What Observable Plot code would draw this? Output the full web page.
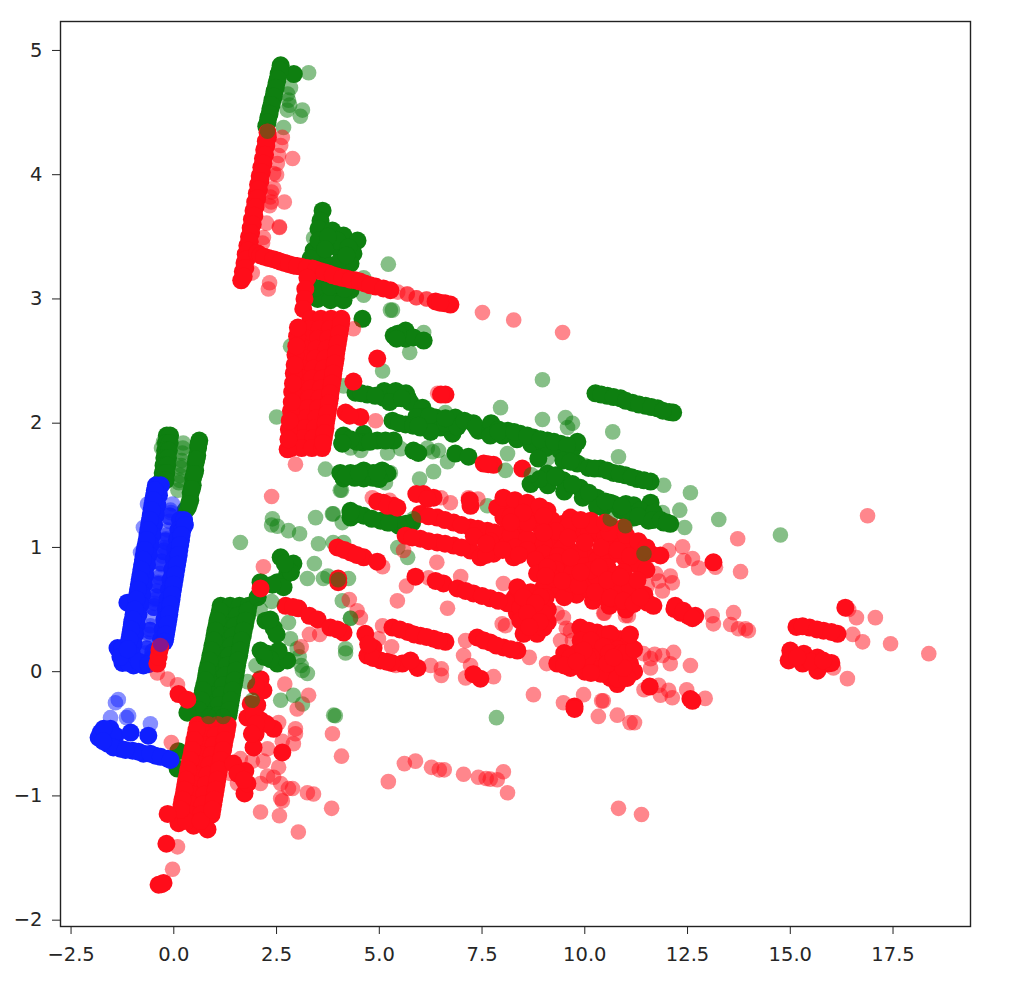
<!DOCTYPE html>
<html>
<head>
<meta charset="utf-8">
<script src="https://cdn.jsdelivr.net/npm/d3@7"></script>
<script src="https://cdn.jsdelivr.net/npm/@observablehq/plot@0.6"></script>
<style>html,body{margin:0;padding:0;background:#fff}svg{display:block}</style>
</head>
<body>
<div id="chart"></div>
<script>
const xTicks = [-2.5,0,2.5,5,7.5,10,12.5,15,17.5];
const yTicks = [-2,-1,0,1,2,3,4,5];
const RED = "#ff0d1a", GREEN = "#0e7f10", BLUE = "#0f1fff";

// ---- blue, overlapping (opaque-looking) points
const blueDense = [
[-.435,1.50],[-.315,1.50],[-.48,1.42],[-.36,1.42],[-.52,1.34],[-.40,1.34],[-.56,1.26],[-.44,1.26],[-.60,1.18],[-.48,1.18],[-.64,1.10],[-.52,1.10],[-.685,1.02],[-.565,1.02],[-.73,.94],[-.61,.94],[-.77,.86],[-.65,.86],[-.81,.78],[-.69,.78],[-.85,.70],[-.73,.70],[-.89,.62],[-.77,.62],[-.93,.54],[-.81,.54],[-.98,.46],[-.86,.46],[-1.02,.38],[-.90,.38],[-1.06,.30],[-.94,.30],[-1.10,.22],[-.98,.22],[-1.14,.14],[-1.02,.14],
[-1.25,.07],[-.98,.05],[-.74,.05],[-1.37,.19],[-1.13,.555],[-1.25,.19],[-1.1,.07],[-.85,.08],[-1.3,.12],[-.62,.06],
[.15,1.22],[.25,1.22],[.11,1.14],[.21,1.14],[.075,1.06],[.175,1.06],[.035,.98],[.135,.98],[0,.90],[.10,.90],[-.04,.82],[.06,.82],[-.08,.74],[.02,.74],[-.12,.66],[-.02,.66],[-.155,.58],[-.055,.58],[-.195,.50],[-.095,.50],[-.23,.42],[-.13,.42],[-.27,.34],[-.17,.34],[-.31,.26],[-.21,.26]
];
const blueEdges = [
[-.46,1.46],[-.5,1.38],[-.54,1.3],[-.58,1.22],[-.62,1.14],[-.66,1.06],[-.71,.98],[-.75,.9],[-.79,.82],[-.83,.74],[-.87,.66],[-.91,.58],[-.95,.5],[-1.0,.42],[-1.04,.34],[-1.08,.26],[-1.12,.18],
[.27,1.18],[.19,1.1],[.155,1.02],[.12,.94],[.08,.86],[.04,.78],[0,.7],[-.04,.62],[-.075,.54],[-.11,.46],[-.15,.38],[-.19,.3],[-.23,.24]
];
const blueMid = [
[-.1,1.25],[-.2,1.05],[-.3,.88],[-.38,.7],[-.48,.52],[-.58,.33],[-.66,.18],[-.24,.97],[-.43,.6],[-.5,.16],[-.55,.1]
];
const blueLowerDense = [
[-1.78,-.49],[-1.83,-.53],[-1.61,-.58],[-1.54,-.46],[-1.42,-.515],[-1.05,-.49],[-.62,-.515],[-1.30,-.62],[-1.0,-.636],[-.74,-.66],[-.445,-.676],[-.15,-.70],[-1.71,-.46],[-1.47,-.61],[-.86,-.644],[-.57,-.66],[-.32,-.685],[-1.175,-.63],[-1.72,-.56],[-.08,-.71]
];
const blueLight = [
[-.03,1.35],[-.07,1.28],[-.11,1.21],[-.15,1.14],[-.19,1.07],[-.23,1.0],[-.27,.93],[-.3,.86],[-.34,.79],[-.38,.72],[-.42,.65],[-.45,.58],[-.49,.51],[-.53,.44],[-.57,.37],[-.6,.30],[-.64,.23],[-.69,.15],
[-.08,1.3],[-.17,1.1],[-.25,.96],[-.36,.76],[-.47,.55],[-.58,.34],
[-.74,1.16],[-.64,1.35],[-.81,.96],[-1.42,-.25],[-1.35,-.225],[-1.54,-.37],[-1.10,-.354],[-1.15,-.37],[-.57,-.42],[-1.05,.4],[-1.0,.48]
];

// ---- green, upper-left strips
const greenStripsDense = [
[2.60,4.88],[2.55,4.81],[2.50,4.74],[2.45,4.67],[2.40,4.60],[2.35,4.53],[2.30,4.46],[2.25,4.39],[2.92,4.81],
[2.58,4.84],[2.53,4.77],[2.48,4.7],[2.43,4.63],[2.38,4.56],[2.33,4.49],[2.28,4.42],
[-.17,1.90],[-.09,1.90],[-.19,1.84],[-.10,1.84],[-.21,1.78],[-.12,1.78],[-.23,1.72],[-.14,1.72],[-.25,1.66],[-.16,1.66],[-.27,1.60],[-.18,1.60],[-.30,1.54],[-.20,1.54],
[.62,1.86],[.59,1.80],[.57,1.74],[.53,1.68],[.52,1.62],[.47,1.56],[.46,1.50],[.41,1.44],[.40,1.38],[.34,1.32],[.29,1.30],
[.6,1.83],[.55,1.71],[.5,1.59],[.44,1.47],[.37,1.35]
];
const greenLowerBlock = [
[1.14,.53],[1.37,.53],[1.60,.53],[1.82,.53],[1.09,.45],[1.32,.45],[1.55,.45],[1.78,.45],[1.04,.37],[1.27,.37],[1.50,.37],[1.73,.37],[.99,.29],[1.22,.29],[1.45,.29],[1.68,.29],[.94,.21],[1.17,.21],[1.40,.21],[1.63,.21],[.89,.13],[1.12,.13],[1.35,.13],[1.59,.13],[.84,.05],[1.07,.05],[1.30,.05],[1.54,.05],[.79,-.03],[1.02,-.03],[1.25,-.03],[1.50,-.03],[.74,-.11],[.97,-.11],[1.20,-.11],[1.46,-.11],[.69,-.19],[.92,-.19],[1.15,-.19],[1.41,-.19],[.64,-.27],[.87,-.27],[1.10,-.27],[1.37,-.27],[.58,-.35],[.83,-.35],[1.07,-.35],[1.33,-.35],
[1.12,.49],[1.06,.41],[1.01,.33],[.97,.25],[.92,.17],[.87,.09],[.81,.01],[.77,-.07],[.71,-.15],[.67,-.23],[.61,-.31],
[1.8,.49],[1.75,.41],[1.7,.33],[1.65,.25],[1.61,.17],[1.56,.09],[1.52,.01],[1.48,-.07],[1.43,-.15],[1.39,-.23],[1.35,-.31]
];
const greenUpperBlock = [
[3.62,3.71],[3.57,3.63],[3.52,3.565],[3.86,3.55],[4.13,3.51],[4.47,3.47],[4.37,3.365],[3.4,3.39],[3.74,3.415],[4.05,3.39],[4.3,3.285],[3.98,3.285],[3.64,3.31],[3.33,3.325],[3.52,3.47],[3.98,3.47],[4.25,3.415],[3.75,3.5],[3.68,3.4],[4.2,3.35],
[3.62,3.09],[3.98,3.07],[4.3,3.07],[3.5,3.0],[3.81,2.99],[4.13,2.99],[3.45,3.09],[3.8,3.1],[4.15,3.08],[4.59,2.84]
];
const greenRowsDense = [
[5.35,2.705],[5.64,2.745],[5.64,2.68],[5.83,2.69],[6.08,2.665],[5.45,2.72],[5.42,2.68],
[4.42,2.245],[4.71,2.23],[5.1,2.205],[5.39,2.2],[5.69,2.205],[5.12,2.26],[5.4,2.26],[5.65,2.24],[5.75,2.17],[5.25,2.17],
[4.56,2.24],[4.9,2.22],[5.55,2.2],
[5.32,2.02],[5.64,1.99],[6.0,1.965],[6.05,2.125],[6.37,2.045],[6.49,1.965],[6.85,2.045],[6.78,1.915],[7.29,2.0],[7.41,1.94],[6.05,2.05],[6.2,2.0],[6.6,2.0],[6.9,1.97],[5.9,2.05],
[5.48,2.0],[5.82,1.98],[6.22,2.06],[6.61,2.04],[7.07,2.02],[7.35,1.97],[6.25,1.93],[5.95,1.98],
[7.7,1.955],[7.72,2.0],[8.12,1.94],[8.43,1.915],[8.75,1.885],[9.09,1.86],[9.41,1.835],[9.72,1.80],[9.82,1.85],[7.7,1.9],[8.0,1.9],[8.35,1.87],[8.7,1.83],[9.05,1.8],[9.4,1.78],[7.9,1.95],
[7.9,1.93],[8.28,1.93],[8.6,1.9],[8.92,1.87],[9.25,1.85],[9.57,1.82],
[9.48,1.70],[9.82,1.675],[8.87,1.715],[10.09,1.64],[10.38,1.635],[10.7,1.60],[10.99,1.58],[11.28,1.55],[11.6,1.53],
[9.65,1.69],[10.24,1.635],[10.54,1.62],[10.85,1.59],[11.14,1.565],[11.44,1.54],
[10.26,2.24],[10.55,2.22],[10.87,2.2],[11.16,2.165],[11.48,2.14],[11.77,2.12],[12.05,2.09],[12.15,2.085],
[10.4,2.23],[10.7,2.21],[11.0,2.18],[11.32,2.15],[11.62,2.13],[11.9,2.1],
[10.62,1.36],[11.0,1.35],[11.19,1.34],[11.6,1.36],[11.43,1.27],[11.77,1.23],[12.08,1.19],[11.92,1.20],[10.45,1.32],[10.87,1.30],[11.19,1.24],[11.55,1.215],[11.0,1.28],
[9.09,1.595],[9.48,1.54],[9.89,1.48],[10.3,1.40],[10.7,1.35],[8.68,1.51],[9.1,1.5],[9.5,1.45],[9.95,1.4],[10.3,1.33],[9.3,1.58],[9.7,1.5],[8.9,1.55],
[9.28,1.57],[9.7,1.51],[10.1,1.44],[10.5,1.37],[10.9,1.33],[11.35,1.3],[11.68,1.28],[11.3,1.25],[11.65,1.22],[11.85,1.22],[12.0,1.2],
[4.1,1.835],[4.13,1.90],[4.62,1.915],[4.59,1.845],[4.95,1.86],[5.35,1.86],[5.83,1.78],[6.85,1.755],[7.17,1.73],[4.45,1.85],[5.95,1.76],
[4.3,1.87],[4.77,1.85],[5.15,1.86],
[4.05,1.60],[4.3,1.60],[4.62,1.62],[4.62,1.555],[4.13,1.555],[5.07,1.62],[5.2,1.595],[4.4,1.56],[4.85,1.6],[4.85,1.56],[5.0,1.55],[4.2,1.58],[4.5,1.6],[4.95,1.6],
[4.3,1.295],[4.3,1.24],[4.62,1.255],[5.03,1.215],[5.44,1.19],[5.2,1.2],[5.47,1.175],[5.8,1.2],[4.46,1.27],[4.82,1.23],[5.25,1.2],[5.65,1.19],
[2.6,.92],[2.91,.87],[2.76,.79],[2.52,.72],[2.11,.72],[2.67,.68],[2.04,.6],[2.23,.41],[2.43,.35],[2.11,.17],[2.28,.145],[2.52,.065],[2.76,.09],[2.55,.17],[2.35,.1],[2.5,.3],[2.35,.42],[2.85,.8],[2.7,.87],[2.4,.7],[2.2,.12],
[4.3,1.28],[4.1,1.84],[.33,-.33],[.11,-.64],[.09,-.78]
];
const greenLight = [
[3.28,4.82],[2.84,4.70],[2.79,4.6],[2.76,4.52],[3.13,4.52],[3.08,4.47],[2.67,4.38],[2.82,4.56],[2.77,4.65],
[-.25,1.85],[-.3,1.8],[.23,1.84],[.21,1.76],[.19,1.70],[.17,1.64],[.15,1.58],[.12,1.52],[.10,1.46],[.22,1.80],[.18,1.66],[.14,1.54],
[3.4,3.49],[4.62,3.17],[4.62,3.03],[5.22,3.28],[5.27,2.91],[2.84,2.62],
[6.08,2.73],[5.74,2.57],[5.32,2.91],[5.08,2.42],[4.13,2.30],[8.97,2.35],[7.95,2.125],[6.61,2.085],
[8.97,2.03],[9.53,2.045],[9.7,2.0],[9.58,1.965],[10.68,1.93],[10.82,1.73],[8.12,1.755],[9.1,1.72],[10.0,1.66],
[11.92,1.50],[12.57,1.44],[12.31,1.30],[12.43,1.16],[13.26,1.225],[14.76,1.10],[11.89,1.28],
[5.2,1.76],[5.52,1.795],[6.17,1.80],[6.44,1.78],[6.3,1.77],[6.66,1.69],[6.32,1.61],[5.98,1.55],[4.05,1.46],[5.27,1.60],[5.15,1.52],[7.63,1.335],[3.88,1.27],[4.55,1.78],[4.3,1.8],
[1.62,1.04],[2.4,1.23],[2.38,1.18],[2.52,1.17],[2.79,1.135],[3.06,1.11],[3.45,1.24],[3.86,1.27],[4.1,1.2],[3.69,1.63],[4.08,1.46],[2.5,2.05],[3.42,.87],[3.25,.75],[3.64,.75],[3.75,.77],[4.25,.75],[3.52,1.03],[3.88,1.04],[4.13,1.04],[4.1,.57],[4.3,.43],[4.18,.185],[4.18,.15],[2.84,.265],[3.0,.185],[3.05,.12],[2.79,.395],[3.25,-.015],[3.1,.05],[5.69,.92],[3.93,-.355],[7.85,-.37],[3.89,-.35],[2.6,-.23],[3.13,-.26],[5.45,1.0]
];

// ---- red points
const redStrip = [
[2.28,4.34],[2.24,4.27],[2.20,4.20],[2.17,4.13],[2.13,4.06],[2.09,3.99],[2.05,3.92],[2.02,3.85],[1.98,3.78],[1.94,3.71],[1.90,3.64],[1.87,3.57],[1.83,3.50],[1.79,3.43],[1.75,3.36],[1.72,3.29],[1.68,3.22],[1.64,3.15],
[2.29,4.30],[2.25,4.23],[2.22,4.16],[2.18,4.09],[2.14,4.02],[2.11,3.95],[2.07,3.88],[2.03,3.81],[1.99,3.74],[1.96,3.67],[1.92,3.6],[1.88,3.53],[1.85,3.46],[1.81,3.39],[1.77,3.32],[1.74,3.25],[1.7,3.18]
];
const redBar = [
[2.03,3.37],[2.11,3.35],[2.3,3.33],[2.52,3.31],[2.7,3.29],[2.91,3.27],[3.1,3.26],[3.37,3.245],[3.55,3.225],[3.76,3.205],[3.98,3.18],[4.2,3.165],[4.42,3.15],[4.65,3.125],[4.91,3.10],[5.27,3.07],[6.37,2.98],[6.6,2.965],[6.73,2.955],
[2.2,3.34],[2.42,3.32],[2.6,3.3],[2.8,3.28],[3.0,3.265],[3.24,3.25],[3.46,3.235],[3.66,3.215],[3.87,3.19],[4.1,3.17],[4.3,3.155],[4.53,3.14],[4.78,3.11],[5.1,3.085],[6.48,2.97]
];
const redUpperBlock = [
[3.25,3.17],[3.2,3.08],[3.18,3.0],[3.15,2.92],
[3.33,2.84],[3.58,2.84],[3.83,2.84],[4.08,2.84],[3.30,2.76],[3.55,2.76],[3.80,2.76],[4.05,2.76],[3.26,2.68],[3.51,2.68],[3.76,2.68],[4.01,2.68],[3.22,2.60],[3.47,2.60],[3.72,2.60],[3.97,2.60],[3.19,2.52],[3.44,2.52],[3.69,2.52],[3.94,2.52],[3.15,2.44],[3.40,2.44],[3.65,2.44],[3.90,2.44],[3.12,2.36],[3.37,2.36],[3.62,2.36],[3.87,2.36],[3.08,2.28],[3.33,2.28],[3.58,2.28],[3.83,2.28],[3.05,2.20],[3.30,2.20],[3.55,2.20],[3.80,2.20],[3.01,2.12],[3.26,2.12],[3.51,2.12],[3.76,2.12],[2.97,2.04],[3.22,2.04],[3.47,2.04],[3.72,2.04],[2.94,1.96],[3.19,1.96],[3.44,1.96],[3.69,1.96],[2.90,1.88],[3.15,1.88],[3.40,1.88],[3.65,1.88],[2.86,1.80],[3.11,1.80],[3.36,1.80],[3.61,1.80],
[2.77,1.79],[2.8,1.95],[2.85,2.1],[2.88,2.25],[2.92,2.4],[2.96,2.55],[3.0,2.7],
[4.07,2.8],[4.03,2.72],[3.99,2.64],[3.95,2.56],[3.92,2.48],[3.88,2.4],[3.85,2.32],[3.81,2.24],[3.78,2.16],[3.74,2.08],[3.7,2.0],[3.67,1.92],[3.63,1.84],
[2.98,2.62],[2.94,2.47],[2.9,2.32],[2.87,2.17],[2.82,2.02],[2.79,1.87],[3.02,2.77]
];
const redLowerBlock = [
[.58,-.43],[.83,-.43],[1.07,-.43],[1.31,-.43],[.53,-.51],[.78,-.51],[1.02,-.51],[1.27,-.51],[.48,-.59],[.73,-.59],[.97,-.59],[1.22,-.59],[.43,-.67],[.68,-.67],[.92,-.67],[1.17,-.67],[.38,-.75],[.63,-.75],[.87,-.75],[1.12,-.75],[.33,-.83],[.58,-.83],[.82,-.83],[1.08,-.83],[.28,-.91],[.53,-.91],[.78,-.91],[1.04,-.91],[.24,-.99],[.48,-.99],[.74,-.99],[1.0,-.99],[.19,-1.07],[.44,-1.07],[.70,-1.07],[.96,-1.07],[.15,-1.15],[.40,-1.15],[.66,-1.15],[.92,-1.15],[.115,-1.22],[.48,-1.24],[.82,-1.27],[.3,-1.2],[.65,-1.2],
[.55,-.47],[.5,-.55],[.45,-.63],[.4,-.71],[.35,-.79],[.3,-.87],[.26,-.95],[.21,-1.03],[.17,-1.11],
[1.29,-.47],[1.24,-.55],[1.2,-.63],[1.15,-.71],[1.1,-.79],[1.06,-.87],[1.02,-.95],[.98,-1.03],[.94,-1.11],
[-.15,-1.145],[-.18,-1.385],[-.37,-1.715],[-.25,-1.70],[-.30,-1.71],
[1.45,-.74],[1.74,-.80],[1.72,-.98],[1.79,-.90],[1.55,-.82],[1.7,-.87],
[2.11,-.06],[2.18,-.15],[1.87,-.26],[2.03,-.27],[1.79,-.37],[2.11,-.39],[2.43,-.46],[1.99,-.50],[1.94,-.61],[2.64,-.65],[2.0,-.12],[1.95,-.35],[2.25,-.42],[2.0,-.42],[1.9,-.5],
[.115,-.18],[.33,-.225],[-.35,.17],[-.40,.065],[-.37,.12],[-.33,.2]
];
const redRowsDense = [
[2.11,.67],[2.72,.53],[3.03,.51],[2.9,.52],[3.3,.45],[3.5,.42],[3.81,.355],[4.13,.315],[4.0,.75],[4.0,.72],[3.98,.34],
[4.95,2.52],[4.37,2.335],[6.61,2.23],[6.5,2.23],[4.54,2.05],[4.18,2.085],[4.28,2.06],
[7.54,1.675],[7.78,1.665],[7.65,1.67],[8.48,1.635],
[5.1,1.36],[5.35,1.335],[4.95,1.37],[5.2,1.335],[5.44,1.32],[6.08,1.43],[6.32,1.40],[5.9,1.43],[6.17,1.39],[7.22,1.335],[7.2,1.38],
[3.98,1.0],[4.3,.96],[4.62,.92],[4.95,.885],[4.15,.98],[4.45,.94],
[5.64,1.095],[6.0,1.07],[6.41,1.04],[6.81,1.015],[7.22,.975],[7.46,.92],[7.78,.95],[5.8,1.08],[6.2,1.05],[6.6,1.03],[7.0,1.0],[7.6,.94],
[6.0,1.27],[6.41,1.24],[6.81,1.20],[7.22,1.16],[7.63,1.135],[8.02,1.11],[8.43,1.095],[8.84,1.055],[9.24,1.015],[9.65,.975],[10.06,.935],[8.02,1.03],[8.27,.92],[8.84,.975],[6.2,1.25],[6.6,1.22],[7.0,1.18],[7.4,1.15],[7.8,1.12],[8.2,1.1],[8.6,1.07],[9.0,1.03],[9.45,.99],[9.85,.95],[7.3,1.09],[7.7,1.05],[8.3,1.0],[8.6,.98],[9.0,.95],[9.35,.93],
[7.87,1.32],[8.27,1.31],[8.68,1.31],[9.09,1.295],[8.02,1.24],[8.43,1.215],[8.84,1.19],[9.48,1.19],[9.89,1.135],[10.3,1.11],[10.7,1.07],[11.03,1.03],[9.65,1.24],[10.14,1.215],[10.62,1.175],[10.94,1.16],[8.02,1.40],[8.3,1.38],[8.6,1.36],[8.9,1.33],[8.2,1.25],[8.6,1.2],[9.2,1.22],[9.6,1.17],[10.1,1.12],[10.5,1.1],[10.79,1.055],[11.19,1.0],[11.6,.95],[11.84,.935],[10.9,1.03],[11.4,.98],
[7.6,1.03],[8.0,.98],[8.4,.94],[8.8,.9],[9.2,.87],[9.6,.84],[10.0,.85],[10.3,.9],[10.6,.93],[11.0,.9],[11.3,.86],[11.5,.82],[10.8,.95],[9.3,.88],
[8.5,1.28],[8.2,1.2],[9.0,1.25],[9.3,1.13],[9.0,1.12],[9.6,1.08],[10.0,1.04],[10.4,1.0],[10.8,.98],[11.1,.93],[10.2,1.18],[10.6,1.12],[11.0,1.1],[11.3,1.05],[11.5,1.0],[9.9,1.22],[10.5,1.2],
[9.0,.68],[9.4,.65],[9.8,.62],[10.2,.57],[10.6,.53],[11.0,.5],[9.3,.82],[9.7,.8],[10.05,.75],[10.5,.68],[10.9,.65],[11.2,.62],[11.45,.62],[9.5,.6],
[8.3,.6],[8.55,.42],[8.75,.52],[9.05,.6],[9.1,.5],[9.1,.4],[8.7,.34],[8.35,.47],
[6.56,.71],[6.9,.67],[7.29,.63],[7.7,.59],[8.12,.55],[8.43,.515],[8.36,.68],[8.68,.64],[8.92,.60],[8.6,.57],[8.43,.41],[8.75,.435],[9.0,.47],[8.51,.305],[8.84,.305],[9.0,.355],[7.1,.65],[7.5,.61],[7.9,.57],[8.5,.6],[8.8,.55],[8.6,.47],[8.9,.4],[8.65,.36],
[5.88,.765],[6.37,.73],
[5.32,.355],[5.69,.32],[6.0,.29],[6.32,.265],[6.61,.24],[5.5,.34],[5.85,.3],[6.15,.28],[6.45,.25],
[4.71,.13],[5.03,.09],[5.56,.065],[5.93,.03],[5.76,.09],[4.86,.19],[4.66,.305],[5.3,.07],[4.85,.11],[5.18,.08],[4.73,.22],
[7.38,.275],[7.7,.235],[8.02,.195],[8.36,.17],[7.55,.25],[7.85,.21],[8.2,.18],[7.46,-.056],[7.29,-.02],[9.75,-.28],[9.75,-.3],
[8.84,.79],[9.24,.75],[9.65,.71],[10.06,.67],[10.46,.61],[10.87,.57],[10.3,.76],[10.7,.71],[11.03,.67],[10.14,.815],[10.55,.84],[10.94,.80],[9.09,.84],[9.65,.92],[9.05,.77],[9.45,.73],[9.85,.69],[10.25,.64],[10.65,.59],[9.9,.8],[10.35,.84],[10.75,.78],
[10.79,.675],[10.55,.735],[11.1,.675],[10.62,.595],[10.94,.57],[11.19,.545],[11.28,.735],[10.87,.76],[11.52,.555],[11.67,.53],[11.35,.6],
[12.18,.505],[12.33,.475],[12.52,.45],[12.69,.45],[12.2,.53],[12.4,.49],[12.62,.43],
[9.89,.355],[10.3,.315],[10.7,.275],[11.03,.25],[10.1,.33],[10.5,.3],[10.87,.26],[10.62,.305],[11.06,.225],[10.55,.195],[10.46,.09],[10.79,.09],[11.1,.065],[10.62,-.05],[10.94,-.05],[10.79,-.1],[10.8,.18],[10.3,.17],[10.5,-.02],[10.2,.05],
[9.5,.15],[9.9,.25],[10.15,.25],[10.45,.2],[10.15,.12],[10.6,.15],[9.8,.15],[10.9,.15],[11.0,.15],[10.3,.02],[10.6,.02],[10.9,0],[11.2,0],[11.2,.18],[10.8,-.02],[11.1,.3],[10.0,0],
[9.33,.065],[9.65,.03],[9.97,.024],[10.38,-.016],[10.79,-.056],[11.03,-.05],[9.65,.115],[10.06,.115],[10.55,.065],[10.94,.03],[9.97,.17],[10.7,.115],[10.15,-.01],[9.5,.05],[9.8,.08],
[15.15,.36],[15.47,.355],[15.81,.33],[16.15,.305],[15.3,.365],[15.65,.34],[16.0,.32],[15.0,.17],[14.96,.09],[15.3,.065],[15.33,.145],[15.66,.115],[15.66,.008],[15.5,.08],[15.9,.065],[16.0,.07],[15.17,.115],[15.8,.09],
[16.34,.515],[11.58,-.12],[12.57,-.22],[12.62,-.235],[13.13,.88]
];
const redLight = [
[2.64,4.30],[2.6,4.235],[2.55,4.155],[2.89,4.13],[2.52,4.09],[2.43,4.01],[2.5,4.0],[2.43,3.89],[2.35,3.82],[2.69,3.78],[2.33,3.75],[2.26,3.61],[2.57,3.575],[2.57,3.58],[2.18,3.495],[2.16,3.45],[2.33,3.13],[2.3,3.08],[1.91,3.21],[2.38,3.86],[2.37,3.78],
[5.68,3.04],[5.68,3.04],[5.45,3.055],[5.9,3.01],[5.9,3.01],[6.15,3.0],[6.15,3.0],[7.51,2.89],[8.27,2.83],[9.46,2.73],[3.03,2.77],[4.37,2.76],[6.42,2.24],[4.91,2.02],[2.96,1.67],[2.38,1.41],[2.18,.845],
[4.83,1.40],[6.73,1.36],[6.5,1.4],[7.17,1.40],[7.4,1.39],[5.25,1.38],
[5.88,.765],[5.66,.69],[6.2,.755],[6.98,.765],[6.4,.88],[5.59,.975],[5.44,.57],[6.66,.51],[7.99,.385],[8.07,.37],[8.02,.71],[5.08,.845],
[5.08,.37],[4.98,.265],[5.3,.2],[6.25,.05],[6.51,.024],[6.51,-.03],[5.4,.05],
[7.1,.25],[7.05,.13],[7.22,.05],[7.1,-.05],[7.78,-.04],[8.65,.115],[8.75,-.185],[9.48,-.25],[9.97,-.185],[10.41,-.235],[10.33,-.36],[10.79,-.35],[11.1,-.41],[9.07,.065],[11.21,-.41],[10.45,-.235],
[9.48,.435],[9.65,.33],[9.33,.47],[9.41,.25],[10.46,.47],[10.99,.45],[9.55,.35],[9.7,.25],
[11.72,.79],[12.08,.77],[12.13,.715],[11.89,.65],[11.52,.69],[11.8,.73],[11.23,.83],[11.4,.83],[12.04,.975],[12.38,1.005],[12.62,.91],[12.41,.895],[12.77,.835],[13.18,.84],[13.72,1.07],[13.79,.805],[16.88,1.255],
[13.1,.45],[13.13,.385],[13.62,.475],[13.55,.38],[13.74,.345],[13.91,.345],[13.98,.33],[10.48,.47],[11.06,.45],
[16.42,.5],[16.61,.435],[17.07,.435],[16.52,.30],[16.76,.24],[17.44,.225],[18.37,.145],[16.39,-.056],[16.05,.03],
[11.43,.145],[11.6,.105],[11.89,.13],[12.16,.155],[12.08,.064],[11.6,.03],[12.57,.05],[11.7,.14],[11.44,-.145],[11.8,-.11],[11.84,-.19],[12.04,-.15],[12.13,-.21],[12.48,-.145],[12.93,-.215],[10.82,-1.10],[11.38,-1.15],
[5.22,-.885],[5.61,-.74],[5.88,-.72],[6.27,-.77],[6.46,-.79],[6.58,-.79],[7.05,-.825],[7.41,-.85],[7.6,-.86],[7.7,-.865],[7.87,-.87],[8.02,-.805],[8.12,-.975],
[4.27,.58],[4.46,.49],[4.54,.435],
[-.40,-.01],[-.15,-.06],[.09,-.105],[-.06,-.57],[.09,-1.41],[-.03,-1.59],
[1.62,-.70],[1.91,-.72],[1.38,-.82],[1.55,-.90],[2.11,-.90],[2.28,-.84],[2.43,-.85],[2.55,-.77],[2.28,-.62],[2.18,-.72],[2.64,-.56],[2.91,-.58],[2.96,-.46],[2.96,-.5],[2.55,-.41],[2.6,-.9],[2.79,-.94],[2.89,-.94],[3.25,-.975],[3.40,-.985],[2.64,-1.04],[2.6,-1.02],[2.11,-1.13],[2.57,-1.16],[3.84,-1.10],[3.03,-1.29],[3.86,-.50],[4.08,-.68],
[3.28,-.19],[2.7,-.1],[3.0,-.3],[3.3,.3],[3.55,.3],[3.1,.2]
];
// ---- translucent points that lie above the red ones
const greenOver = [
[2.28,4.35],[1.91,-.23],[1.79,-.08],[2.91,-.19],[3.13,.01],[2.38,.565],[8.07,1.62],[8.7,1.585],[11.44,.95],[10.62,1.23],[10.99,1.175],[4.3,.43],[5.83,1.23],[4.0,.74],[2.1,.5],[2.0,.05],[1.2,-.36],[.85,-.36]
];
const blueOver = [
[-.32,.22]
];

const THICK = 9, THIN = 7.8;
const dots = (data, fill, fillOpacity, r) =>
  Plot.dot(data, {x: d => d[0], y: d => d[1], r, fill, fillOpacity, stroke: "none"});

const chart = Plot.plot({
  width: 1010,
  height: 1000,
  marginLeft: 60,
  marginRight: 40,
  marginTop: 21,
  marginBottom: 74,
  style: {background: "#fff", fontFamily: "'DejaVu Sans', sans-serif"},
  x: {domain: [-2.757, 19.385]},
  y: {domain: [-2.051, 5.233]},
  marks: [
    dots(greenLight, GREEN, .5, THIN),
    dots(greenStripsDense, GREEN, 1, THICK),
    dots(greenLowerBlock, GREEN, 1, THICK),
    dots(greenUpperBlock, GREEN, 1, THICK),
    dots(greenRowsDense, GREEN, 1, THICK),
    dots(blueLight, BLUE, .5, THIN),
    dots(blueMid, BLUE, .8, THICK),
    dots(blueDense, BLUE, 1, THICK),
    dots(blueEdges, BLUE, 1, THICK),
    dots(blueLowerDense, BLUE, 1, THICK),
    dots(redLight, RED, .5, THIN),
    dots(redStrip, RED, 1, THICK),
    dots(redBar, RED, 1, THICK),
    dots(redUpperBlock, RED, 1, THICK),
    dots(redLowerBlock, RED, 1, THICK),
    dots(redRowsDense, RED, 1, THICK),
    dots(greenOver, GREEN, .5, THIN),
    dots(blueOver, BLUE, .5, THIN),
    Plot.frame({stroke: "#222", strokeWidth: 1.4}),
    Plot.axisX({ticks: xTicks, tickFormat: d3.format(".1f"), tickSize: 8, tickPadding: 13, fontSize: 19.5, label: null, stroke: "#222", fill: "#262626"}),
    Plot.axisY({ticks: yTicks, tickFormat: d3.format("d"), tickSize: 8, tickPadding: 10, fontSize: 19.5, label: null, stroke: "#222", fill: "#262626"})
  ]
});
document.getElementById("chart").append(chart);
</script>
</body>
</html>
